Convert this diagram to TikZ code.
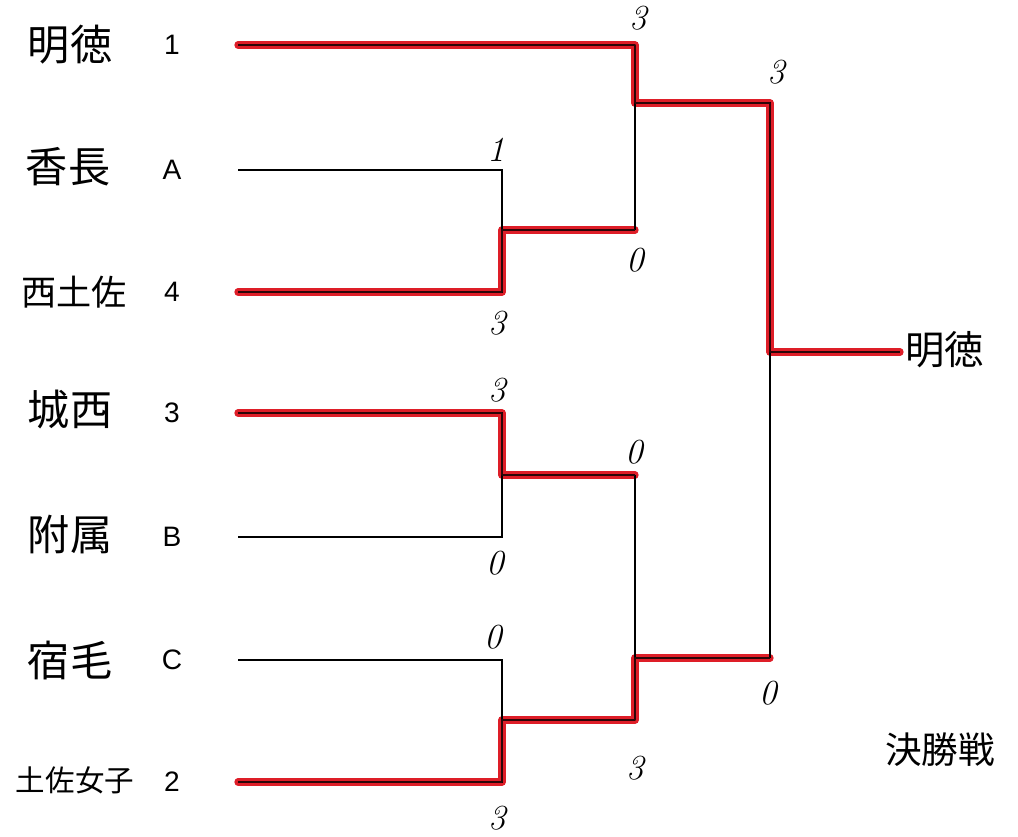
\documentclass[tikz,border=0pt]{standalone}
\usepackage{fontspec}
\newfontfamily\jp{Noto Sans CJK JP}
\newfontfamily\seedfont{Liberation Sans}
\definecolor{hired}{RGB}{222,30,40}
\begin{document}
\begin{tikzpicture}[x=0.025cm,y=-0.025cm,
  team/.style={font=\jp\fontsize{30}{30}\selectfont, inner sep=0pt},
  seed/.style={font=\seedfont\fontsize{20}{20}\selectfont, inner sep=0pt},
  score/.style={font=\itshape\fontsize{25}{25}\selectfont, inner sep=0pt},
  bline/.style={black, line width=1.1pt},
  wline/.style={black!80!hired, line width=1.8pt, line join=round},
  rline/.style={hired, line width=5.2pt, line join=round, line cap=round}]
\useasboundingbox (0,0) rectangle (1018,836);
% team names
\node[team] (t1) at (70,45) {明徳};
\node[team] (tA) at (68,167) {香長};
\node[team, font=\jp\fontsize{25}{25}\selectfont] (t4) at (74,292) {西土佐};
\node[team] (t3) at (70,410) {城西};
\node[team] (tB) at (70,535) {附属};
\node[team] (tC) at (70,660) {宿毛};
\node[team, font=\jp\fontsize{21}{21}\selectfont] (t2) at (75,780) {土佐女子};
% seeds
\node[seed] (n1) at (172,45) {1};
\node[seed] (nA) at (172,170) {A};
\node[seed] (n4) at (172,292) {4};
\node[seed] (n3) at (172,413) {3};
\node[seed] (nB) at (172,537) {B};
\node[seed] (nC) at (172,660) {C};
\node[seed] (n2) at (172,782) {2};
% bracket points
\coordinate (s1) at (238,45);  \coordinate (e1) at (635,45);
\coordinate (sA) at (238,170); \coordinate (eA) at (502,170);
\coordinate (s4) at (238,292); \coordinate (e4) at (502,292);
\coordinate (s3) at (238,413); \coordinate (e3) at (502,413);
\coordinate (sB) at (238,537); \coordinate (eB) at (502,537);
\coordinate (sC) at (238,660); \coordinate (eC) at (502,660);
\coordinate (s2) at (238,782); \coordinate (e2) at (502,782);
\coordinate (m1) at (502,230); \coordinate (m1e) at (635,230);
\coordinate (m2) at (502,475); \coordinate (m2e) at (635,475);
\coordinate (m3) at (502,720); \coordinate (m3e) at (635,720);
\coordinate (q1) at (635,103); \coordinate (q1e) at (770,103);
\coordinate (q2) at (635,658); \coordinate (q2e) at (770,658);
\coordinate (f) at (770,352);  \coordinate (fe) at (900,352);
% red highlights
\draw[rline] (s1) -- (e1) -- (q1) -- (q1e) -- (f) -- (fe);
\draw[rline] (s4) -- (e4) -- (m1) -- (m1e);
\draw[rline] (s3) -- (e3) -- (m2) -- (m2e);
\draw[rline] (s2) -- (e2) -- (m3) -- (m3e) -- (q2) -- (q2e);
% black bracket
\draw[bline] (s1) -- (e1);
\draw[bline] (sA) -- (eA) -- (e4) -- (s4);
\draw[bline] (s3) -- (e3) -- (eB) -- (sB);
\draw[bline] (sC) -- (eC) -- (e2) -- (s2);
\draw[bline] (m1) -- (m1e);
\draw[bline] (m2) -- (m2e);
\draw[bline] (m3) -- (m3e);
\draw[bline] (e1) -- (m1e);
\draw[bline] (m2e) -- (m3e);
\draw[bline] (q1) -- (q1e) -- (q2e);
\draw[bline] (q2) -- (q2e);
\draw[bline] (f) -- (fe);
% darker strokes along the winners' paths
\draw[wline] (s1) -- (e1) -- (q1) -- (q1e) -- (f) -- (fe);
\draw[wline] (s4) -- (e4) -- (m1) -- (m1e);
\draw[wline] (s3) -- (e3) -- (m2) -- (m2e);
\draw[wline] (s2) -- (e2) -- (m3) -- (m3e) -- (q2) -- (q2e);
% winner and title
\node[team, anchor=west, font=\jp\fontsize{28}{28}\selectfont] (win) at (905,350) {明徳};
\node[team, font=\jp\fontsize{26}{26}\selectfont] (title) at (940,750) {決勝戦};
% scores
\node[score] (c1) at (638,18) {3};
\node[score] (c2) at (776,72) {3};
\node[score] (c3) at (496,150) {1};
\node[score] (c4) at (635,260) {0};
\node[score] (c5) at (497,323) {3};
\node[score] (c6) at (497,390) {3};
\node[score] (c7) at (634,452) {0};
\node[score] (c8) at (495,563) {0};
\node[score] (c9) at (493,637) {0};
\node[score] (c10) at (768,693) {0};
\node[score] (c11) at (635,768) {3};
\node[score] (c12) at (497,818) {3};
\end{tikzpicture}
\end{document}
